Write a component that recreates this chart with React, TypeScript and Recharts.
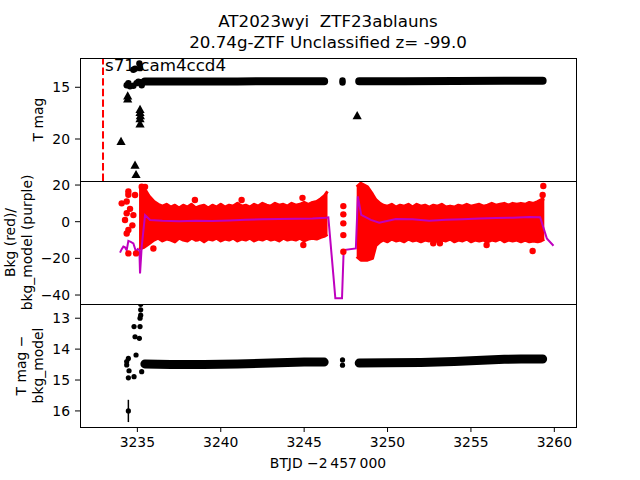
import React from 'react';
import { ComposedChart, Line, Scatter, Area, XAxis, YAxis, ReferenceLine, ErrorBar } from 'recharts';

// ---------- text ----------
const titleLines = ['AT2023wyi  ZTF23ablauns', '20.74g-ZTF Unclassified z= -99.0'];
const xLabel = 'BTJD \u22122\u2009457\u2009000';
const yLabelTop = ['T mag'];
const yLabelMid = ['Bkg (red)/', 'bkg_model (purple)'];
const yLabelBot = ['T mag \u2212', 'bkg_model'];
const sectorText = 's71 cam4ccd4';
const sectorStart = 3232.94;

// ---------- axes ----------
const xDomain = [3231.56, 3261.3];
const xTicks = [3235, 3240, 3245, 3250, 3255, 3260];
const magDomain = [12.17, 24.06];
const magTicks = [15, 20];
const bkgDomain = [-44.9, 22.2];
const bkgTicks = [-40, -20, 0, 20];
const diffDomain = [12.54, 16.52];
const diffTicks = [13, 14, 15, 16];

// ---------- panel 1: T mag ----------
const magBandA = [
  { x: 3235.45, y: 14.45 }, { x: 3238, y: 14.45 }, { x: 3241, y: 14.43 },
  { x: 3244, y: 14.42 }, { x: 3246.2, y: 14.42 },
];
const magBandB = [
  { x: 3248.3, y: 14.42 }, { x: 3251, y: 14.42 }, { x: 3254, y: 14.4 },
  { x: 3257, y: 14.38 }, { x: 3259.3, y: 14.38 },
];
const magPoints = [
  { x: 3247.3, y: 14.35 }, { x: 3247.3, y: 14.55 },
  { x: 3234.36, y: 14.8 }, { x: 3234.46, y: 14.6 }, { x: 3234.56, y: 14.9 },
  { x: 3234.76, y: 13.3 }, { x: 3234.86, y: 13.2 }, { x: 3234.76, y: 14.85 },
  { x: 3234.95, y: 14.6 }, { x: 3235.06, y: 14.45 }, { x: 3235.12, y: 12.7 },
  { x: 3235.16, y: 13.15 }, { x: 3235.2, y: 14.5 }, { x: 3235.26, y: 14.8 },
];
const magLimits = [
  { x: 3234.02, y: 20.3 }, { x: 3234.42, y: 16.2 }, { x: 3234.42, y: 15.9 },
  { x: 3235.16, y: 17.2 }, { x: 3235.16, y: 17.5 }, { x: 3235.18, y: 17.8 },
  { x: 3235.16, y: 18.1 }, { x: 3235.16, y: 18.6 }, { x: 3234.86, y: 22.6 },
  { x: 3234.92, y: 23.5 }, { x: 3248.18, y: 17.8 },
];

// ---------- panel 2: background ----------
const bkgBand = [
  { x: 3235.1, r: [-15, 19] }, { x: 3235.4, r: [-14, 18.5] }, { x: 3235.7, r: [-12, 14] },
  { x: 3236.0, r: [-10, 11] }, { x: 3236.25, r: [-9, 9.5] }, { x: 3236.5, r: [-10.5, 8.5] },
  { x: 3236.75, r: [-9.5, 9.5] }, { x: 3237.0, r: [-10, 8] }, { x: 3237.25, r: [-11, 9] },
  { x: 3237.5, r: [-9, 7.5] }, { x: 3237.75, r: [-10, 9] }, { x: 3238.0, r: [-10.5, 8] },
  { x: 3238.25, r: [-9, 9.5] }, { x: 3238.5, r: [-10, 7.5] }, { x: 3238.75, r: [-9.5, 8.5] },
  { x: 3239.0, r: [-11, 9] }, { x: 3239.25, r: [-9.5, 7.5] }, { x: 3239.5, r: [-10, 9] },
  { x: 3239.75, r: [-9, 8] }, { x: 3240.0, r: [-10.5, 9.5] }, { x: 3240.25, r: [-9.5, 8] },
  { x: 3240.5, r: [-10, 9] }, { x: 3240.75, r: [-9, 8.5] }, { x: 3241.0, r: [-10.5, 10] },
  { x: 3241.25, r: [-9.5, 8.5] }, { x: 3241.5, r: [-10, 9] }, { x: 3241.75, r: [-9, 8] },
  { x: 3242.0, r: [-10.5, 9.5] }, { x: 3242.25, r: [-9.5, 8.5] }, { x: 3242.5, r: [-10, 10] },
  { x: 3242.75, r: [-9, 9] }, { x: 3243.0, r: [-10, 8.5] }, { x: 3243.25, r: [-9.5, 10] },
  { x: 3243.5, r: [-10.5, 9] }, { x: 3243.75, r: [-9, 9.5] }, { x: 3244.0, r: [-10, 8.5] },
  { x: 3244.25, r: [-9.5, 10] }, { x: 3244.5, r: [-10, 9] }, { x: 3244.75, r: [-9, 9.5] },
  { x: 3245.0, r: [-10.5, 10.5] }, { x: 3245.25, r: [-9.5, 9.5] }, { x: 3245.5, r: [-9, 10.5] },
  { x: 3245.75, r: [-9.5, 11] }, { x: 3246.0, r: [-8.5, 12.5] }, { x: 3246.2, r: [-8, 14] },
  { x: 3246.4, r: [-7, 16.5] },
  { x: 3247.3, r: null },
  { x: 3248.15, r: [-19, 19] }, { x: 3248.4, r: [-21, 21] }, { x: 3248.8, r: [-21, 19] },
  { x: 3249.1, r: [-20, 15] }, { x: 3249.3, r: [-13, 12] }, { x: 3249.55, r: [-11, 10] },
  { x: 3249.75, r: [-10, 9] }, { x: 3250.0, r: [-11, 8.5] }, { x: 3250.25, r: [-9.5, 9.5] },
  { x: 3250.5, r: [-10.5, 8] }, { x: 3250.75, r: [-10, 9] }, { x: 3251.0, r: [-11, 8.5] },
  { x: 3251.25, r: [-9.5, 9.5] }, { x: 3251.5, r: [-10.5, 8] }, { x: 3251.75, r: [-10, 9.5] },
  { x: 3252.0, r: [-11, 8.5] }, { x: 3252.25, r: [-10, 9] }, { x: 3252.5, r: [-10.5, 8] },
  { x: 3252.75, r: [-9.5, 9] }, { x: 3253.0, r: [-11, 8.5] }, { x: 3253.25, r: [-10, 9.5] },
  { x: 3253.5, r: [-10.5, 8] }, { x: 3253.75, r: [-9.5, 8.5] }, { x: 3254.0, r: [-11, 8] },
  { x: 3254.25, r: [-10, 9] }, { x: 3254.5, r: [-10.5, 8.5] }, { x: 3254.75, r: [-9.5, 9.5] },
  { x: 3255.0, r: [-11, 8.5] }, { x: 3255.25, r: [-10, 9] }, { x: 3255.5, r: [-10.5, 9.5] },
  { x: 3255.75, r: [-10, 8.5] }, { x: 3256.0, r: [-11, 9] }, { x: 3256.25, r: [-10, 10] },
  { x: 3256.5, r: [-10.5, 9] }, { x: 3256.75, r: [-9.5, 9.5] }, { x: 3257.0, r: [-11, 10] },
  { x: 3257.25, r: [-10, 9] }, { x: 3257.5, r: [-10.5, 10] }, { x: 3257.75, r: [-10, 9.5] },
  { x: 3258.0, r: [-11, 10] }, { x: 3258.25, r: [-10, 9.5] }, { x: 3258.5, r: [-11, 10.5] },
  { x: 3258.75, r: [-10.5, 10] }, { x: 3259.0, r: [-11, 11] }, { x: 3259.2, r: [-10.5, 12] },
  { x: 3259.4, r: [-9.5, 12.5] },
];
const bkgPoints = [
  { x: 3234.06, y: 10 }, { x: 3234.36, y: 11 }, { x: 3234.46, y: 16.5 }, { x: 3234.46, y: 14.7 },
  { x: 3234.86, y: 14.6 }, { x: 3235.26, y: 19.1 }, { x: 3235.46, y: 19 }, { x: 3234.36, y: 4.6 },
  { x: 3234.26, y: 0.9 }, { x: 3234.46, y: -4.5 }, { x: 3234.36, y: -6.4 }, { x: 3234.46, y: -17.3 },
  { x: 3234.92, y: -17.3 }, { x: 3234.76, y: 3.6 }, { x: 3234.56, y: 7 }, { x: 3234.7, y: -2 },
  { x: 3235.96, y: -14.6 }, { x: 3238.45, y: 11.8 }, { x: 3238.56, y: -9.1 }, { x: 3241.25, y: 11.8 },
  { x: 3244.95, y: -12.7 }, { x: 3244.9, y: 13 },
  { x: 3247.35, y: 8.5 }, { x: 3247.35, y: 4 }, { x: 3247.35, y: -0.9 }, { x: 3247.35, y: -7.3 },
  { x: 3247.35, y: -16.4 },
  { x: 3252.74, y: -11.8 }, { x: 3253.14, y: -11.8 }, { x: 3255.94, y: -12.7 }, { x: 3258.7, y: -16 },
  { x: 3259.34, y: 19.5 }, { x: 3259.3, y: 14.6 },
];
const bkgModel = [
  { x: 3233.96, y: -16.9 }, { x: 3234.06, y: -15 }, { x: 3234.16, y: -13.6 }, { x: 3234.26, y: -14 },
  { x: 3234.36, y: -15.5 }, { x: 3234.46, y: -10.5 }, { x: 3234.6, y: -11 }, { x: 3234.76, y: -11.8 },
  { x: 3234.92, y: -16.4 }, { x: 3235.02, y: -15 }, { x: 3235.12, y: -15.5 }, { x: 3235.16, y: -28.2 },
  { x: 3235.26, y: -13.6 }, { x: 3235.46, y: 3.6 }, { x: 3235.76, y: 0.9 }, { x: 3236.5, y: 0.5 },
  { x: 3237.5, y: 0.3 }, { x: 3238.5, y: 0.5 }, { x: 3239.5, y: 0.4 }, { x: 3240.5, y: 0.6 },
  { x: 3241.5, y: 1.0 }, { x: 3242.5, y: 1.3 }, { x: 3243.5, y: 1.5 }, { x: 3244.5, y: 1.6 },
  { x: 3245.5, y: 1.7 }, { x: 3246.3, y: 2.2 }, { x: 3246.45, y: 2.4 }, { x: 3246.75, y: -29 },
  { x: 3246.87, y: -41.8 }, { x: 3247.27, y: -41.8 }, { x: 3247.37, y: -15.5 }, { x: 3248.1, y: -14.6 },
  { x: 3248.22, y: 13.8 }, { x: 3248.42, y: 3.7 }, { x: 3249.0, y: 1 }, { x: 3249.5, y: -0.5 },
  { x: 3250.5, y: 1.5 }, { x: 3251.5, y: 1.3 }, { x: 3252.5, y: 0.5 }, { x: 3253.5, y: 1 },
  { x: 3254.5, y: 1.3 }, { x: 3255.5, y: 1.8 }, { x: 3256.5, y: 2 }, { x: 3257.5, y: 2.2 },
  { x: 3258.5, y: 2.5 }, { x: 3259.15, y: 2.4 }, { x: 3259.55, y: -9.1 }, { x: 3259.95, y: -13.1 },
];

// ---------- panel 3: T mag - bkg_model ----------
const diffBandA = [
  { x: 3235.45, y: 14.48 }, { x: 3237, y: 14.5 }, { x: 3239, y: 14.5 }, { x: 3241, y: 14.48 },
  { x: 3243, y: 14.45 }, { x: 3245, y: 14.42 }, { x: 3246.2, y: 14.42 },
];
const diffBandB = [
  { x: 3248.3, y: 14.45 }, { x: 3250, y: 14.44 }, { x: 3252, y: 14.43 }, { x: 3254, y: 14.4 },
  { x: 3255, y: 14.38 }, { x: 3256, y: 14.35 }, { x: 3257, y: 14.33 }, { x: 3258, y: 14.32 },
  { x: 3259.3, y: 14.32 },
];
const diffPoints = [
  { x: 3247.3, y: 14.35, e: 0 }, { x: 3247.3, y: 14.52, e: 0 },
  { x: 3234.46, y: 16.0, e: 0.36 },
  { x: 3234.36, y: 14.51, e: 0 }, { x: 3234.36, y: 14.4, e: 0 }, { x: 3234.46, y: 14.3, e: 0 },
  { x: 3234.46, y: 14.93, e: 0 }, { x: 3234.5, y: 14.7, e: 0 }, { x: 3234.8, y: 13.27, e: 0 },
  { x: 3234.86, y: 13.6, e: 0 }, { x: 3235.12, y: 13.65, e: 0 }, { x: 3235.16, y: 13.27, e: 0 },
  { x: 3235.16, y: 13.0, e: 0 }, { x: 3235.2, y: 12.73, e: 0 }, { x: 3235.2, y: 12.9, e: 0 },
  { x: 3234.92, y: 14.19, e: 0 }, { x: 3234.8, y: 14.89, e: 0 }, { x: 3235.26, y: 14.73, e: 0 },
  { x: 3235.2, y: 12.55, e: 0 },
];

// ---------- rendering ----------
const FONT = "'DejaVu Sans', sans-serif";
const tickStyle = { fontSize: 13.9, fill: '#000', fontFamily: FONT };
const W = 640;
const PANEL_H = 123;
const TOPS = [58, 181, 304];
const MARGIN = { top: 0, right: 64, bottom: 0, left: 0 };
const RED = '#ff0000';
const PURPLE = '#bf00bf';

const fmt = (v: number) => (v < 0 ? '\u2212' + Math.abs(v) : String(v));

const dot = (r: number, fill: string) => (p: any) =>
  p.cx == null ? <g /> : <circle cx={p.cx} cy={p.cy} r={r} fill={fill} />;
const tri = (p: any) =>
  p.cx == null ? <g /> : (
    <polygon
      points={`${p.cx},${p.cy - 5.3} ${p.cx - 4.6},${p.cy + 2.9} ${p.cx + 4.6},${p.cy + 2.9}`}
      fill="#000"
    />
  );

const Frame = ({ top }: { top: number }) => (
  <div
    style={{
      position: 'absolute', left: 80, top, width: 497, height: PANEL_H + 1,
      border: '1px solid #000', boxSizing: 'border-box', pointerEvents: 'none',
    }}
  />
);

const yAxisCommon = {
  width: 80,
  type: 'number' as const,
  allowDataOverflow: true,
  axisLine: false,
  tickLine: { stroke: '#000' },
  tickSize: 5,
  tickMargin: 5,
  tick: tickStyle,
  tickFormatter: fmt,
  interval: 0 as const,
};

const RotLabel = ({ lines, baselines, cy }: { lines: string[]; baselines: number[]; cy: number }) => (
  <>
    {lines.map((t, i) => (
      <text
        key={i}
        transform={`translate(${baselines[i]},${cy}) rotate(-90)`}
        textAnchor="middle"
        fontFamily={FONT}
        fontSize={13.9}
        fill="#000"
      >
        {t}
      </text>
    ))}
  </>
);

export default function App() {
  return (
    <div style={{ position: 'absolute', left: 0, top: 0, width: W, height: 480, background: '#fff' }}>
      <style>{`.recharts-surface{overflow:visible}`}</style>
      {/* panel 1 */}
      <div style={{ position: 'absolute', left: 0, top: TOPS[0] }}>
        <ComposedChart width={W} height={PANEL_H} margin={MARGIN}>
          <XAxis dataKey="x" type="number" domain={xDomain} allowDataOverflow hide />
          <YAxis {...yAxisCommon} dataKey="y" domain={magDomain} ticks={magTicks} reversed />
          <ReferenceLine
            x={sectorStart}
            stroke={RED}
            strokeWidth={2}
            strokeDasharray="7.4 3.2"
            label={(props: any) => {
              const vb = props.viewBox || {};
              return (
                <text x={(vb.x ?? 0) + 2} y={(vb.y ?? 0) + 13} fontFamily={FONT} fontSize={16.7} fill="#000">
                  {sectorText}
                </text>
              );
            }}
          />
          <Line data={magBandA} dataKey="y" stroke="#000" strokeWidth={8} strokeLinecap="round" dot={false} isAnimationActive={false} />
          <Line data={magBandB} dataKey="y" stroke="#000" strokeWidth={8} strokeLinecap="round" dot={false} isAnimationActive={false} />
          <Scatter data={magPoints} dataKey="y" shape={dot(3.2, '#000')} isAnimationActive={false} />
          <Scatter data={magLimits} dataKey="y" shape={tri} isAnimationActive={false} />
        </ComposedChart>
      </div>

      {/* panel 2 */}
      <div style={{ position: 'absolute', left: 0, top: TOPS[1] }}>
        <ComposedChart width={W} height={PANEL_H} margin={MARGIN} data={bkgBand}>
          <XAxis dataKey="x" type="number" domain={xDomain} allowDataOverflow hide />
          <YAxis {...yAxisCommon} domain={bkgDomain} ticks={bkgTicks} />
          <Area dataKey="r" stroke={RED} strokeWidth={3} strokeLinejoin="round" fill={RED} fillOpacity={1} dot={false} activeDot={false} isAnimationActive={false} />
          <Scatter data={bkgPoints} dataKey="y" shape={dot(3.2, RED)} isAnimationActive={false} />
          <Line data={bkgModel} dataKey="y" stroke={PURPLE} strokeWidth={2} dot={false} isAnimationActive={false} />
        </ComposedChart>
      </div>

      {/* panel 3 */}
      <div style={{ position: 'absolute', left: 0, top: TOPS[2] }}>
        <ComposedChart width={W} height={PANEL_H + 40} margin={MARGIN}>
          <XAxis
            dataKey="x"
            type="number"
            domain={xDomain}
            allowDataOverflow
            ticks={xTicks}
            interval={0}
            height={40}
            axisLine={false}
            tickLine={{ stroke: '#000' }}
            tickSize={5}
            tickMargin={5}
            tick={tickStyle}
          />
          <YAxis {...yAxisCommon} dataKey="y" domain={diffDomain} ticks={diffTicks} reversed />
          <Line data={diffBandA} dataKey="y" stroke="#000" strokeWidth={9} strokeLinecap="round" dot={false} isAnimationActive={false} />
          <Line data={diffBandB} dataKey="y" stroke="#000" strokeWidth={9} strokeLinecap="round" dot={false} isAnimationActive={false} />
          <Scatter data={diffPoints} dataKey="y" shape={dot(2.6, '#000')} isAnimationActive={false}>
            <ErrorBar dataKey="e" direction="y" width={0} stroke="#000" strokeWidth={1.5} />
          </Scatter>
        </ComposedChart>
      </div>

      <Frame top={TOPS[0]} />
      <Frame top={TOPS[1]} />
      <Frame top={TOPS[2]} />

      <svg width={W} height={480} style={{ position: 'absolute', left: 0, top: 0, pointerEvents: 'none' }}>
        <text x={328} y={27} textAnchor="middle" fontFamily={FONT} fontSize={16.7} fill="#000" style={{ whiteSpace: 'pre' }}>{titleLines[0]}</text>
        <text x={328} y={48} textAnchor="middle" fontFamily={FONT} fontSize={16.7} fill="#000" style={{ whiteSpace: 'pre' }}>{titleLines[1]}</text>
        <RotLabel lines={yLabelTop} baselines={[43]} cy={119.5} />
        <RotLabel lines={yLabelMid} baselines={[15, 31.5]} cy={242.5} />
        <RotLabel lines={yLabelBot} baselines={[26, 42.5]} cy={365.5} />
        <text x={328} y={468} textAnchor="middle" fontFamily={FONT} fontSize={13.9} fill="#000">{xLabel}</text>
      </svg>
    </div>
  );
}
